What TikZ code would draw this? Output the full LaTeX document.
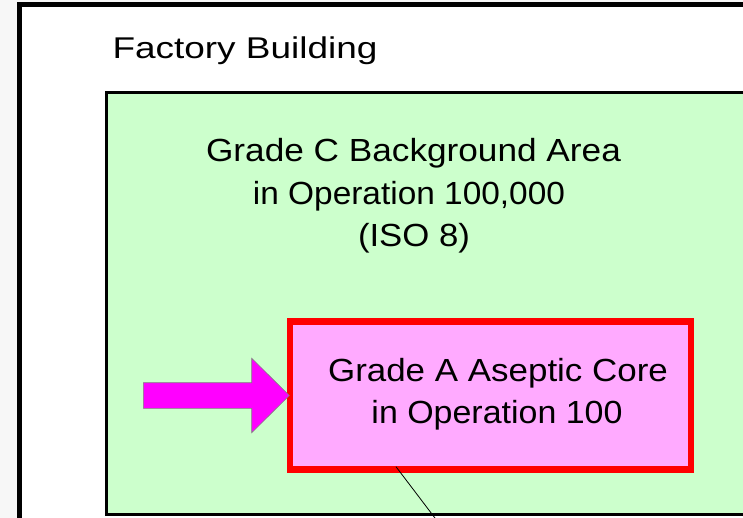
\documentclass[tikz,border=0pt]{standalone}
\usepackage{fontspec}
\setmainfont{Liberation Sans}
\definecolor{bggray}{RGB}{247,247,247}
\definecolor{areagreen}{RGB}{204,255,204}
\definecolor{corepink}{RGB}{255,170,255}
\definecolor{arrowmag}{RGB}{255,0,255}
\begin{document}
\begin{tikzpicture}[x=1pt,y=-1pt,
  lbl/.style={inner sep=0pt, anchor=base, font=\fontsize{32}{38}\selectfont},
  ttl/.style={inner sep=0pt, anchor=base, font=\fontsize{30}{36}\selectfont}]
\useasboundingbox (0,0) rectangle (743,518);
\clip (0,0) rectangle (743,518);
\fill[bggray] (0,0) rectangle (743,518);
% factory building frame
\draw[line width=5pt, fill=white] (19.5,5) rectangle (780,560);
% grade C area
\draw[line width=3pt, fill=areagreen] (106.5,93) rectangle (800,514.5);
% grade A core
\draw[line width=6.5pt, draw=red, fill=corepink] (290,321.7) rectangle (691,469.7);
% arrow
\draw[fill=arrowmag, draw=gray, line width=0.6pt]
  (143.3,382.7) -- (251.7,382.7) -- (251.7,358.3) -- (289.3,395.5)
  -- (251.7,432.7) -- (251.7,408.3) -- (143.3,408.3) -- cycle;
% callout line
\coordinate (cs) at (396,466.7);
\coordinate (ce) at (439.5,524);
\draw[line width=0.8pt] (cs) -- (ce);
% texts
\node[ttl] (fb) at (245,58.3) {\scalebox{1.232}[1]{Factory Building}};
\node[lbl] (c1) at (413.5,162) {\scalebox{1.10}[1]{Grade C Background Area}};
\node[lbl] (c2) at (409,204.5) {\scalebox{1.044}[1]{in Operation 100,000}};
\node[lbl] (c3) at (414,247) {\scalebox{1.086}[1]{(ISO 8)}};
\node[lbl] (a1) at (498,381.7) {\scalebox{1.092}[1]{Grade A Aseptic Core}};
\node[lbl] (a2) at (497,423.5) {\scalebox{1.061}[1]{in Operation 100}};
\end{tikzpicture}
\end{document}
